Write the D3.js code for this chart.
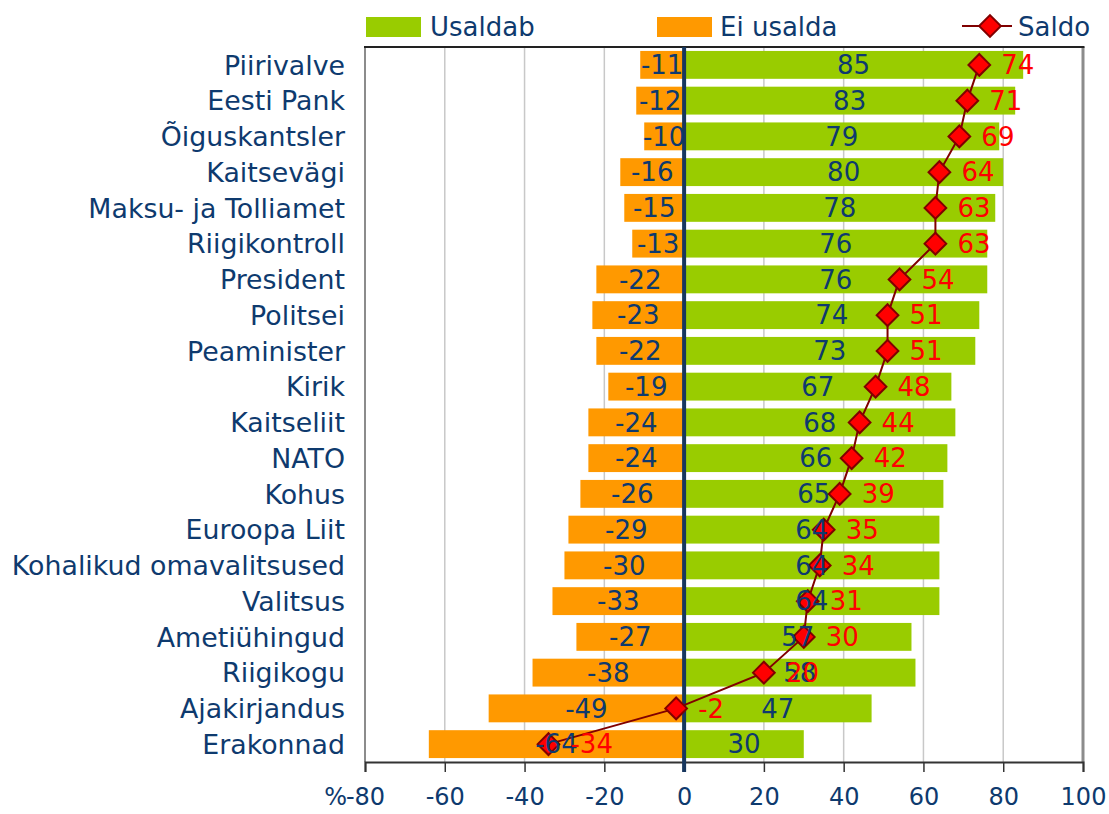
<!DOCTYPE html>
<html><head><meta charset="utf-8">
<script src="https://cdn.jsdelivr.net/npm/d3@7"></script>
<style>body{margin:0;background:#fff}svg{display:block}text{font-family:"DejaVu Sans",Verdana,sans-serif}</style>
</head><body>
<script>
const categories = ["Piirivalve","Eesti Pank","Õiguskantsler","Kaitsevägi","Maksu- ja Tolliamet","Riigikontroll","President","Politsei","Peaminister","Kirik","Kaitseliit","NATO","Kohus","Euroopa Liit","Kohalikud omavalitsused","Valitsus","Ametiühingud","Riigikogu","Ajakirjandus","Erakonnad"];
const usaldab = [85,83,79,80,78,76,76,74,73,67,68,66,65,64,64,64,57,58,47,30];
const eiUsalda = [-11,-12,-10,-16,-15,-13,-22,-23,-22,-19,-24,-24,-26,-29,-30,-33,-27,-38,-49,-64];
const saldo = [74,71,69,64,63,63,54,51,51,48,44,42,39,35,34,31,30,20,-2,-34];
const tickValues = [-80,-60,-40,-20,0,20,40,60,80,100];
const seriesNames = ["Usaldab","Ei usalda","Saldo"];

const W=1109,H=814;
const L=365,R=1083,T=47,B=762;
const GREEN="#99CC00",ORANGE="#FF9900",NAVY="#0E3A6E",DARKRED="#800000";

const svg=d3.select("body").append("svg").attr("width",W).attr("height",H);
const x=d3.scaleLinear().domain([-80,100]).range([L,R]);
const y=d3.scaleBand().domain(categories).range([T,B]).paddingInner(0.22).paddingOuter(0.11);
const cy=c=>y(c)+y.bandwidth()/2;

const rows=categories.map((c,i)=>({c,u:usaldab[i],e:eiUsalda[i],s:saldo[i]}));

// gridlines
svg.append("g").selectAll("line").data(tickValues.filter(t=>t!==-80&&t!==0&&t!==100)).join("line")
  .attr("x1",d=>x(d)).attr("x2",d=>x(d)).attr("y1",T).attr("y2",B)
  .attr("stroke","#C8C8C8").attr("stroke-width",1.5);

// bars
svg.append("g").selectAll("rect").data(rows).join("rect")
  .attr("x",d=>x(d.e)).attr("width",d=>x(0)-x(d.e)).attr("y",d=>y(d.c)).attr("height",y.bandwidth())
  .attr("fill",ORANGE);
svg.append("g").selectAll("rect").data(rows).join("rect")
  .attr("x",x(0)).attr("width",d=>x(d.u)-x(0)).attr("y",d=>y(d.c)).attr("height",y.bandwidth())
  .attr("fill",GREEN);

// borders
svg.append("line").attr("x1",L).attr("x2",L).attr("y1",T).attr("y2",B).attr("stroke","#8C8C8C").attr("stroke-width",2);
svg.append("line").attr("x1",R).attr("x2",R).attr("y1",T).attr("y2",B).attr("stroke","#8C8C8C").attr("stroke-width",3);
svg.append("line").attr("x1",L-1).attr("x2",R+1.5).attr("y1",T).attr("y2",T).attr("stroke","#222").attr("stroke-width",2);

// x axis
const axis=svg.append("g").attr("transform",`translate(0,${B})`)
  .call(d3.axisBottom(x).tickValues(tickValues).tickSize(10).tickPadding(16).tickFormat(d=>String(d)));
axis.select(".domain").attr("stroke","#333").attr("stroke-width",2);
axis.selectAll(".tick line").attr("stroke","#333").attr("stroke-width",1.5);
axis.selectAll(".tick text").attr("fill",NAVY).attr("font-size",24).attr("font-family","DejaVu Sans");
svg.append("text").attr("x",x(-80)-18).attr("y",B+26).attr("dy","0.71em").attr("text-anchor","end").attr("fill",NAVY).attr("font-size",24).text("%");

// zero line
svg.append("line").attr("x1",x(0)).attr("x2",x(0)).attr("y1",T).attr("y2",B+10).attr("stroke","#17375E").attr("stroke-width",4);

// category labels
svg.append("g").selectAll("text").data(categories).join("text")
  .attr("x",345).attr("y",d=>cy(d)).attr("dy","0.36em").attr("text-anchor","end")
  .attr("fill",NAVY).attr("font-size",26.8).text(d=>d);

// saldo line + markers
const line=d3.line().x(d=>x(d.s)).y(d=>cy(d.c));
svg.append("path").datum(rows).attr("d",line).attr("fill","none").attr("stroke",DARKRED).attr("stroke-width",2);
const diamond=d3.symbol().type(d3.symbolDiamond2).size(300);
svg.append("g").selectAll("path").data(rows).join("path")
  .attr("d",diamond).attr("transform",d=>`translate(${x(d.s)},${cy(d.c)})`)
  .attr("fill","#FF0000").attr("stroke",DARKRED).attr("stroke-width",2);

// value labels
svg.append("g").selectAll("text").data(rows).join("text")
  .attr("x",d=>(x(d.e)+x(0))/2).attr("y",d=>cy(d.c)).attr("dy","0.36em").attr("text-anchor","middle")
  .attr("fill",NAVY).attr("font-size",26).text(d=>d.e);
svg.append("g").selectAll("text").data(rows).join("text")
  .attr("x",d=>(x(d.u)+x(0))/2).attr("y",d=>cy(d.c)).attr("dy","0.36em").attr("text-anchor","middle")
  .attr("fill",NAVY).attr("font-size",26).text(d=>d.u);
svg.append("g").selectAll("text").data(rows).join("text")
  .attr("x",d=>x(d.s)+22).attr("y",d=>cy(d.c)).attr("dy","0.36em").attr("text-anchor","start")
  .attr("fill","#FF0000").attr("font-size",26).text(d=>d.s);

// legend
const lg=svg.append("g");
lg.append("rect").attr("x",366).attr("y",17).attr("width",55).attr("height",20).attr("fill",GREEN);
lg.append("text").attr("x",430).attr("y",27).attr("dy","0.36em").attr("fill",NAVY).attr("font-size",26).text(seriesNames[0]);
lg.append("rect").attr("x",657).attr("y",17).attr("width",55).attr("height",20).attr("fill",ORANGE);
lg.append("text").attr("x",720).attr("y",27).attr("dy","0.36em").attr("fill",NAVY).attr("font-size",26).text(seriesNames[1]);
lg.append("line").attr("x1",962).attr("x2",1012).attr("y1",26).attr("y2",26).attr("stroke",DARKRED).attr("stroke-width",2);
lg.append("path").attr("d",diamond).attr("transform","translate(990,26)").attr("fill","#FF0000").attr("stroke",DARKRED).attr("stroke-width",2);
lg.append("text").attr("x",1018).attr("y",27).attr("dy","0.36em").attr("fill",NAVY).attr("font-size",26).text(seriesNames[2]);
</script>
</body></html>
